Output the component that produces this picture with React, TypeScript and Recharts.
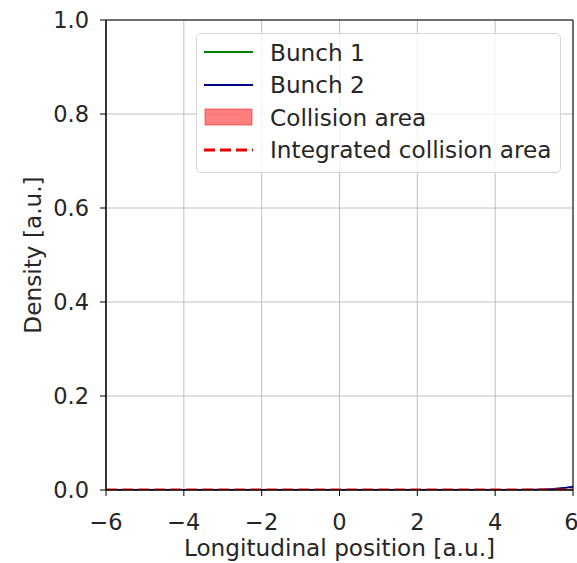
import React from 'react';
import {
  ComposedChart,
  Line,
  Area,
  XAxis,
  YAxis,
  CartesianGrid,
  ReferenceArea,
} from 'recharts';

const positions = [-6, -5.5, -5, -4.5, -4, -3.5, -3, -2.5, -2, -1.5, -1, -0.5, 0, 0.5, 1, 1.5, 2, 2.5, 3, 3.5, 4, 4.5, 5, 5.25, 5.5, 5.75, 6];
const bunch1 = [0, 0, 0, 0, 0, 0, 0, 0, 0, 0, 0, 0, 0, 0, 0, 0, 0, 0, 0, 0, 0, 0, 0, 0, 0, 0, 0];
const bunch2 = [0, 0, 0, 0, 0, 0, 0, 0, 0, 0, 0, 0, 0, 0, 0, 0, 0, 0, 0, 0, 0.0001, 0.0002, 0.0006, 0.0012, 0.0022, 0.0040, 0.0070];
const collision = [0, 0, 0, 0, 0, 0, 0, 0, 0, 0, 0, 0, 0, 0, 0, 0, 0, 0, 0, 0, 0, 0, 0, 0, 0, 0, 0];
const integrated = [0, 0, 0, 0, 0, 0, 0, 0, 0, 0, 0, 0, 0, 0, 0, 0, 0, 0, 0, 0, 0, 0, 0, 0, 0, 0, 0];

const xTicks = [-6, -4, -2, 0, 2, 4, 6];
const yTicks = [0, 0.2, 0.4, 0.6, 0.8, 1.0];
const legendItems = [
  { label: 'Bunch 1', kind: 'line', color: '#008000' },
  { label: 'Bunch 2', kind: 'line', color: '#00008b' },
  { label: 'Collision area', kind: 'patch', color: '#ff0000' },
  { label: 'Integrated collision area', kind: 'dash', color: '#e00000' },
];

const data = positions.map((x, i) => ({
  x,
  bunch1: bunch1[i],
  bunch2: bunch2[i],
  collision: collision[i],
  integrated: integrated[i],
}));

const FONT = '"DejaVu Sans", sans-serif';
const FS = 22.5;
const LABEL_FS = 23.2;
const tickStyle = { fill: '#262626', fontSize: FS, fontFamily: FONT };

function LegendBox() {
  return (
    <div
      style={{
        position: 'absolute',
        left: 196,
        top: 33,
        width: 365,
        height: 140,
        boxSizing: 'border-box',
        border: '1px solid #d6d6d6',
        borderRadius: 5,
        background: 'rgba(255,255,255,0.8)',
        fontFamily: FONT,
        fontSize: LABEL_FS,
        color: '#262626',
        paddingTop: 2,
      }}
    >
      {legendItems.map((item) => (
        <div key={item.label} style={{ display: 'flex', alignItems: 'center', height: 32.5 }}>
          <svg width={73} height={20} style={{ flex: 'none' }}>
            {item.kind === 'line' && (
              <line x1={7} x2={56} y1={10} y2={10} stroke={item.color} strokeWidth={2} />
            )}
            {item.kind === 'dash' && (
              <line x1={7} x2={56} y1={10} y2={10} stroke={item.color} strokeWidth={3} strokeDasharray="11 5" />
            )}
            {item.kind === 'patch' && (
              <rect x={8} y={2} width={47} height={16} fill={item.color} fillOpacity={0.5} stroke={item.color} strokeOpacity={0.5} />
            )}
          </svg>
          <span style={{ whiteSpace: 'nowrap', lineHeight: 1 }}>{item.label}</span>
        </div>
      ))}
    </div>
  );
}

export default function App() {
  return (
    <div style={{ position: 'absolute', left: 0, top: 0, width: 577, height: 563, background: '#fff', overflow: 'hidden' }}>
      <ComposedChart
        width={577}
        height={563}
        data={data}
        margin={{ top: 20, right: 4, left: 0, bottom: 0 }}
      >
        <CartesianGrid stroke="#b0b0b0" strokeWidth={0.8} />
        <XAxis
          dataKey="x"
          type="number"
          domain={[-6, 6]}
          ticks={xTicks}
          allowDataOverflow
          height={73}
          tick={tickStyle}
          tickLine={{ stroke: '#000' }}
          tickSize={6}
          tickMargin={18}
          axisLine={{ stroke: '#000' }}
          tickFormatter={(v: number) => String(v).replace('-', '\u2212')}
          label={{
            value: 'Longitudinal position [a.u.]',
            position: 'insideBottom',
            offset: 7,
            style: { fill: '#262626', fontSize: LABEL_FS, fontFamily: FONT, textAnchor: 'middle' },
          }}
        />
        <YAxis
          type="number"
          domain={[0, 1]}
          ticks={yTicks}
          allowDataOverflow
          width={106}
          tick={tickStyle}
          tickLine={{ stroke: '#000' }}
          tickSize={6}
          tickMargin={11}
          axisLine={{ stroke: '#000' }}
          tickFormatter={(v: number) => v.toFixed(1)}
          label={{
            value: 'Density [a.u.]',
            angle: -90,
            position: 'insideLeft',
            offset: 33,
            style: { fill: '#262626', fontSize: LABEL_FS, fontFamily: FONT, textAnchor: 'middle' },
          }}
        />
        <ReferenceArea x1={-6} x2={6} y1={0} y2={1} fill="none" stroke="#000" strokeWidth={1} ifOverflow="visible" />
        <Line dataKey="bunch1" stroke="#008000" strokeWidth={2} dot={false} isAnimationActive={false} />
        <Line dataKey="bunch2" stroke="#00008b" strokeWidth={2} dot={false} isAnimationActive={false} />
        <Area
          dataKey="collision"
          fill="#ff0000"
          fillOpacity={0.5}
          stroke="#ff0000"
          strokeOpacity={0.5}
          isAnimationActive={false}
        />
        <Line
          dataKey="integrated"
          stroke="#d40000"
          strokeWidth={3}
          strokeDasharray="11 5"
          dot={false}
          isAnimationActive={false}
        />
      </ComposedChart>
      <LegendBox />
    </div>
  );
}
